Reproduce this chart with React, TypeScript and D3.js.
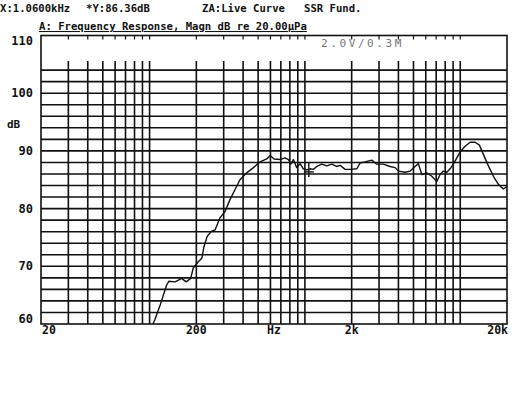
import React from 'react';
import * as d3 from 'd3';

// frequency response (Hz, dB)
const freqs = [105, 108, 117, 129, 133, 146, 161, 172, 184, 191, 206, 217, 224, 235, 251, 264, 284, 306, 330, 355,
  382, 422, 466, 514, 568, 597, 633, 692, 745, 783, 811, 843, 886, 931, 977, 1028, 1079, 1134, 1192, 1284,
  1383, 1489, 1603, 1684, 1814, 1953, 2157, 2266, 2440, 2694, 2902, 3200, 3534, 3806, 3997, 4416, 4756, 5122, 5378, 5656,
  6090, 6560, 7064, 7418, 7790, 8194, 8604, 9036, 9502, 9978, 10748, 11572, 12466, 13286, 14094, 15180, 16348, 17606, 18960, 19940];
const levels = [60, 60.7, 63.3, 66.8, 67.4, 67.3, 67.9, 67.3, 67.9, 69.7, 70.8, 71.4, 73.4, 75.2, 76.1, 76.3, 78.4, 79.5, 81.6, 83.3,
  85.0, 86.2, 87.1, 88.1, 88.6, 89.2, 88.6, 88.5, 88.8, 88.5, 87.7, 88.5, 87.1, 87.8, 86.9, 86.7, 86.9, 86.8, 87.3, 87.7,
  87.4, 87.7, 87.3, 87.5, 86.8, 86.8, 86.9, 87.9, 88.1, 88.4, 87.7, 87.7, 87.3, 87.1, 86.5, 86.3, 86.5, 87.3, 87.8, 85.9,
  86.2, 85.6, 84.7, 85.9, 86.5, 86.3, 86.9, 87.7, 88.8, 89.8, 90.8, 91.5, 91.5, 91.0, 89.4, 87.4, 85.6, 84.2, 83.4, 83.8];

const yTicks = [110, 100, 90, 80, 70, 60];
const xTickLabels = [
  { f: 20, text: '20', anchor: 'start' },
  { f: 200, text: '200', anchor: 'middle' },
  { f: 632, text: 'Hz', anchor: 'middle' },
  { f: 2000, text: '2k', anchor: 'middle' },
  { f: 20000, text: '20k', anchor: 'end' },
];
const headerItems = [
  { x: 0, text: 'X:1.0600kHz' },
  { x: 86, text: '*Y:86.36dB' },
  { x: 202, text: 'ZA:Live Curve' },
  { x: 304, text: 'SSR Fund.' },
];
const title = 'A: Frequency Response, Magn dB re 20.00\u00B5Pa';
const note = '2.0V/0.3M';
const cursor = { f: 1060, db: 86.36 };

const W = 522, H = 399;
const left = 41, right = 507, top = 35.5, bottom = 324;
const gridTop = 61;
const font = '"DejaVu Sans Mono", monospace';

export default function App() {
  const x = d3.scaleLog().domain([20, 20000]).range([left, right]);
  const y = d3.scaleLinear().domain([60, 110]).range([bottom, top]);

  // log grid: 2..9 in each decade, plus decade lines
  const vLines: number[] = [];
  [10, 100, 1000, 10000].forEach(d => {
    for (let m = 1; m <= 9; m++) {
      const f = d * m;
      if (f > 20 && f < 20000) vLines.push(f);
    }
  });
  const hLines = d3.range(62, 105, 2);

  const line = d3.line<number>()
    .x((d, i) => x(freqs[i]))
    .y(d => y(d));

  const cx = x(cursor.f), cy = y(cursor.db);

  return (
    <svg width={W} height={H} style={{ position: 'absolute', left: 0, top: 0, background: '#fff' }}>
      <rect x={0} y={0} width={W} height={H} fill="#fff" />
      {headerItems.map(h => (
        <text key={h.text} x={h.x} y={12} fontFamily={font} fontWeight="bold" fontSize={10.6} fill="#111">{h.text}</text>
      ))}
      <text x={39} y={30} fontFamily={font} fontWeight="bold" fontSize={10.6} fill="#111" textDecoration="underline">{title}</text>
      <text x={321} y={47} fontFamily={font} fontSize={11} letterSpacing={2.6} fill="#777">{note}</text>

      {hLines.map(d => (
        <line key={'h' + d} x1={left} x2={right} y1={y(d)} y2={y(d)} stroke="#111" strokeWidth={1.6} />
      ))}
      {vLines.map(f => (
        <g key={'v' + f}>
          <line x1={x(f)} x2={x(f)} y1={gridTop} y2={bottom} stroke="#111" strokeWidth={1.6} />
          <line x1={x(f)} x2={x(f)} y1={top} y2={top + 4} stroke="#111" strokeWidth={1.2} />
        </g>
      ))}
      <rect x={left} y={top} width={right - left} height={bottom - top} fill="none" stroke="#111" strokeWidth={1.6} />

      <path d={line(levels) || ''} fill="none" stroke="#111" strokeWidth={1.4} strokeLinejoin="round" />
      <line x1={cx} x2={cx} y1={cy - 9} y2={cy + 5} stroke="#111" strokeWidth={1.4} />
      <line x1={cx - 5} x2={cx + 5} y1={cy} y2={cy} stroke="#111" strokeWidth={1.4} />

      {yTicks.map(t => (
        <text key={'y' + t} x={33} y={Math.min(319, Math.max(41, y(t))) + 4} textAnchor="end"
          fontFamily={font} fontWeight="bold" fontSize={12} fill="#111">{t}</text>
      ))}
      <text x={7} y={128} fontFamily={font} fontWeight="bold" fontSize={11} fill="#111">dB</text>
      {xTickLabels.map(t => (
        <text key={t.text} x={x(t.f) + (t.anchor === 'middle' ? 0 : 1)} y={334}
          textAnchor={t.anchor as any} fontFamily={font} fontWeight="bold" fontSize={11.5} fill="#111">{t.text}</text>
      ))}
    </svg>
  );
}
